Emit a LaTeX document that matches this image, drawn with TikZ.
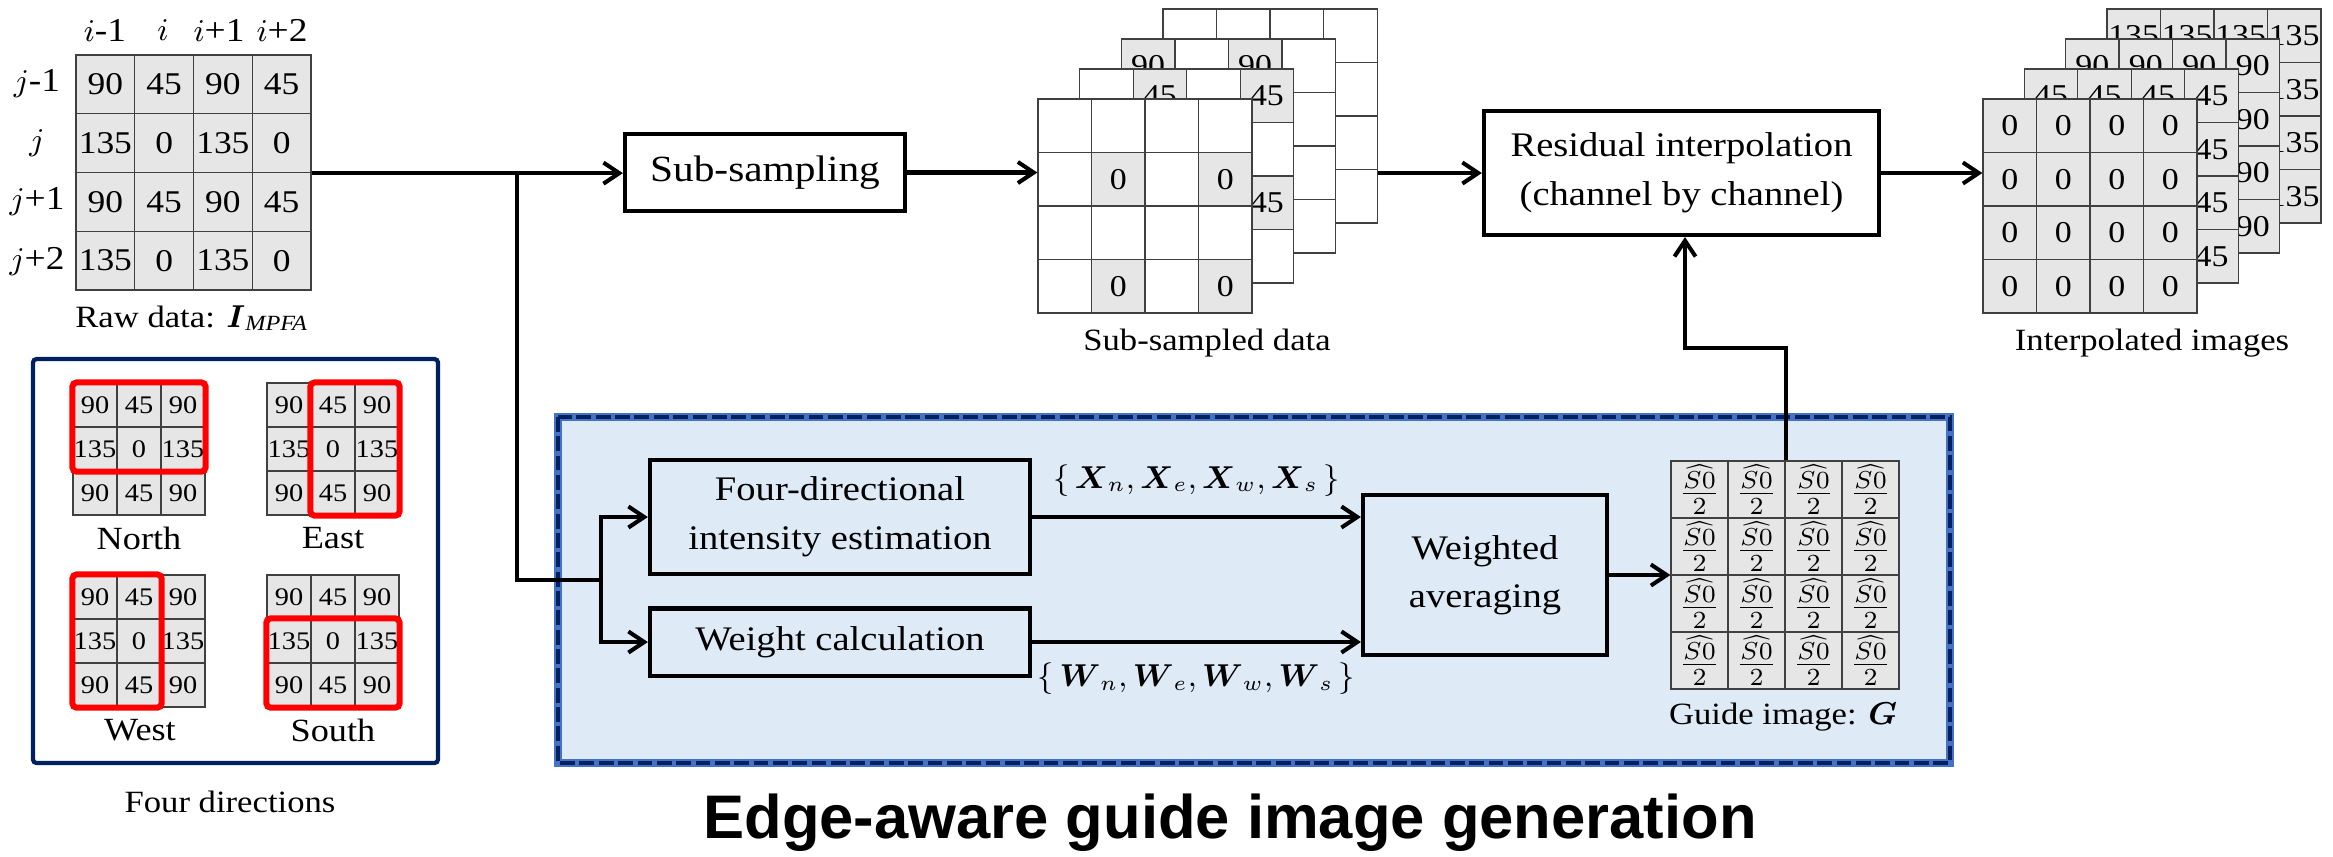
\documentclass[tikz,border=0pt]{standalone}
\usepackage{amsmath}
\usepackage{fontspec}
\setmainfont{Liberation Serif}[FakeStretch=1.12]
\setsansfont{Liberation Sans}
\usetikzlibrary{arrows.meta}

\definecolor{navyblue}{RGB}{0,32,96}
\definecolor{panelblue}{RGB}{222,235,247}
\definecolor{edgeblue}{RGB}{68,114,196}
\definecolor{cellgray}{RGB}{230,230,230}

\tikzset{
  arr/.style={line width=1.15pt, -{Straight Barb[length=4.5pt,width=6pt]}},
  wire/.style={line width=1.15pt},
  procbox/.style={draw, line width=1.15pt, align=center, inner sep=0pt, font=\fontsize{9.8}{13.8}\selectfont},
  rawcell/.style={draw=black!75, fill=cellgray, line width=0.35pt, minimum size=0.5875cm, inner sep=0pt, font=\fontsize{9}{10}\selectfont},
  dircell/.style={draw=black!75, fill=cellgray, line width=0.35pt, minimum size=0.44cm, inner sep=0pt, font=\fontsize{7.2}{8}\selectfont},
  stackcell/.style={draw=black!75, line width=0.35pt, minimum size=0.535cm, inner sep=0pt, font=\fontsize{8.6}{9}\selectfont},
  guidecell/.style={draw=black!75, fill=cellgray, line width=0.35pt, minimum size=0.57cm, inner sep=0pt, font=\fontsize{9.6}{10}\selectfont},
  redframe/.style={draw=red, line width=1.7pt, rounded corners=1.2pt},
  caption/.style={font=\fontsize{8.8}{10}\selectfont, inner sep=0pt},
  dirlabel/.style={font=\fontsize{9.2}{10}\selectfont, inner sep=0pt},
  axislabel/.style={font=\fontsize{9.5}{10}\selectfont, inner sep=0pt},
  setlabel/.style={font=\fontsize{8.7}{10}\selectfont},
}

% 3x3 polarizer pattern, #1 = name, (#2,#3) = top left corner
\newcommand{\dirgrid}[3]{%
  \foreach \v [count=\k from 0] in {90,45,90,135,0,135,90,45,90} {
    \pgfmathtruncatemacro{\ri}{floor(\k/3)+1}
    \pgfmathtruncatemacro{\ci}{mod(\k,3)+1}
    \node[dircell] (#1-\ri-\ci) at ({#2+44*(\ci-0.5)},{#3+44*(\ri-0.5)}) {\v};
  }}

\begin{document}
\begin{tikzpicture}[x=0.01cm, y=-0.01cm]
    \useasboundingbox (0,0) rectangle (2333,856);

    % edge-aware panel
    \fill[panelblue] (558,417) rectangle (1950,763);
    \draw[edgeblue, line width=2.4pt] (558,417) rectangle (1950,763);
    \draw[navyblue, line width=1.4pt, dash pattern=on 4.2pt off 1.3pt] (558,417) rectangle (1950,763);
    \node[font=\sffamily\bfseries\fontsize{17.5}{20}\selectfont] (title) at (1230,823) {Edge-aware guide image generation};

    % raw mosaic
    \foreach \v [count=\k from 0] in {90,45,90,45,135,0,135,0,90,45,90,45,135,0,135,0} {
        \pgfmathtruncatemacro{\ri}{floor(\k/4)+1}
        \pgfmathtruncatemacro{\ci}{mod(\k,4)+1}
        \node[rawcell] (raw-\ri-\ci) at ({76+58.75*(\ci-0.5)},{55+58.75*(\ri-0.5)}) {\v};
    }
    \node[axislabel] (ci1) at (105,30) {$i$-1};
    \node[axislabel] (ci2) at (163,30) {$i$};
    \node[axislabel] (ci3) at (219,30) {$i$+1};
    \node[axislabel] (ci4) at (282,30) {$i$+2};
    \node[axislabel] (rj1) at (37,84) {$j$-1};
    \node[axislabel] (rj2) at (37,143) {$j$};
    \node[axislabel] (rj3) at (37,202) {$j$+1};
    \node[axislabel] (rj4) at (37,261) {$j$+2};
    \node[caption] (rawcap) at (192,318) {Raw data: $\boldsymbol{I}_{\textit{MPFA}}$};

    % four directions
    \draw[navyblue, line width=1.2pt, rounded corners=1pt] (33,359) rectangle (438,763);
    \dirgrid{north}{73}{383}
    \dirgrid{east}{267}{383}
    \dirgrid{west}{73}{575}
    \dirgrid{south}{267}{575}
    \draw[redframe] (north-1-1.north west) rectangle (north-2-3.south east);
    \draw[redframe] (east-1-2.north west) rectangle (east-3-3.south east);
    \draw[redframe] (west-1-1.north west) rectangle (west-3-2.south east);
    \draw[redframe] (south-2-1.north west) rectangle (south-3-3.south east);
    \node[dirlabel] (nlab) at (139,538) {North};
    \node[dirlabel] (elab) at (333,538) {East};
    \node[dirlabel] (wlab) at (140,730) {West};
    \node[dirlabel] (slab) at (333,730) {South};
    \node[caption] (dircap) at (230,802) {Four directions};

    % sub-sampled channels, back to front
    \foreach \L/\lv in {3/135,2/90,1/45,0/0} {
        \foreach \v [count=\k from 0] in {90,45,90,45,135,0,135,0,90,45,90,45,135,0,135,0} {
            \pgfmathtruncatemacro{\ri}{floor(\k/4)+1}
            \pgfmathtruncatemacro{\ci}{mod(\k,4)+1}
            \ifnum\v=\lv\relax
                \node[stackcell, fill=cellgray] (sub-\L-\ri-\ci) at ({1038+41.7*\L+53.5*(\ci-0.5)},{99-30*\L+53.5*(\ri-0.5)}) {\v};
            \else
                \node[stackcell, fill=white] (sub-\L-\ri-\ci) at ({1038+41.7*\L+53.5*(\ci-0.5)},{99-30*\L+53.5*(\ri-0.5)}) {};
            \fi
        }
    }
    \node[caption] (subcap) at (1207,343) {Sub-sampled data};

    % interpolated channels, back to front
    \foreach \L/\lv in {3/135,2/90,1/45,0/0} {
        \foreach \ri in {1,...,4} {
            \foreach \ci in {1,...,4} {
                \node[stackcell, fill=cellgray] (int-\L-\ri-\ci) at ({1983+41.3*\L+53.5*(\ci-0.5)},{99-30*\L+53.5*(\ri-0.5)}) {\lv};
            }
        }
    }
    \node[caption] (intcap) at (2152,343) {Interpolated images};

    % guide image
    \foreach \ri in {1,...,4} {
        \foreach \ci in {1,...,4} {
            \node[guidecell] (guide-\ri-\ci) at ({1671+57*(\ci-0.5)},{461+57*(\ri-0.5)}) {$\frac{\widehat{S0}}{2}$};
        }
    }
    \node[caption] (guidecap) at (1783,717) {Guide image: $\boldsymbol{G}$};

    % processing blocks
    \node[procbox, fill=white, minimum width=2.8cm, minimum height=0.77cm, font=\fontsize{10.5}{13.8}\selectfont] (subsamp) at (765,172.5) {Sub-sampling};
    \node[procbox, fill=white, minimum width=3.95cm, minimum height=1.24cm] (resid) at (1681.5,173) {Residual interpolation\\(channel by channel)};
    \node[procbox, minimum width=3.8cm, minimum height=1.14cm] (fourdir) at (840,517) {Four-directional\\intensity estimation};
    \node[procbox, minimum width=3.8cm, minimum height=0.67cm] (weight) at (840,642) {Weight calculation};
    \node[procbox, minimum width=2.44cm, minimum height=1.6cm] (avg) at (1485,575) {Weighted\\averaging};

    % connections
    \coordinate (tap) at (517,172.5);
    \coordinate (fork) at (601,580);
    \coordinate (up) at (1685,348);
    \draw[arr] (raw-2-4.south east) -- (raw-2-4.south east -| subsamp.west);
    \draw[wire] (tap) |- (fork);
    \draw[arr] (fork) |- (fourdir.west);
    \draw[arr] (fork) |- (weight.west);
    \draw[arr] (subsamp.east) -- (subsamp.east -| sub-0-2-1.west);
    \draw[arr] (sub-3-4-4.east |- resid.west) -- (resid.west);
    \draw[arr] (resid.east) -- (resid.east -| int-0-2-1.west);
    \draw[arr] (fourdir.east) -- (fourdir.east -| avg.west)
        node[midway, above=2pt, setlabel] {$\{\,\boldsymbol{X}_n,\boldsymbol{X}_e,\boldsymbol{X}_w,\boldsymbol{X}_s\,\}$};
    \draw[arr] (weight.east) -- (weight.east -| avg.west)
        node[midway, below=2pt, setlabel] {$\{\,\boldsymbol{W}_n,\boldsymbol{W}_e,\boldsymbol{W}_w,\boldsymbol{W}_s\,\}$};
    \draw[arr] (avg.east) -- (avg.east -| guide-3-1.west);
    \draw[arr] (guide-1-2.north east) |- (up) -- (up |- resid.south);
\end{tikzpicture}
\end{document}
